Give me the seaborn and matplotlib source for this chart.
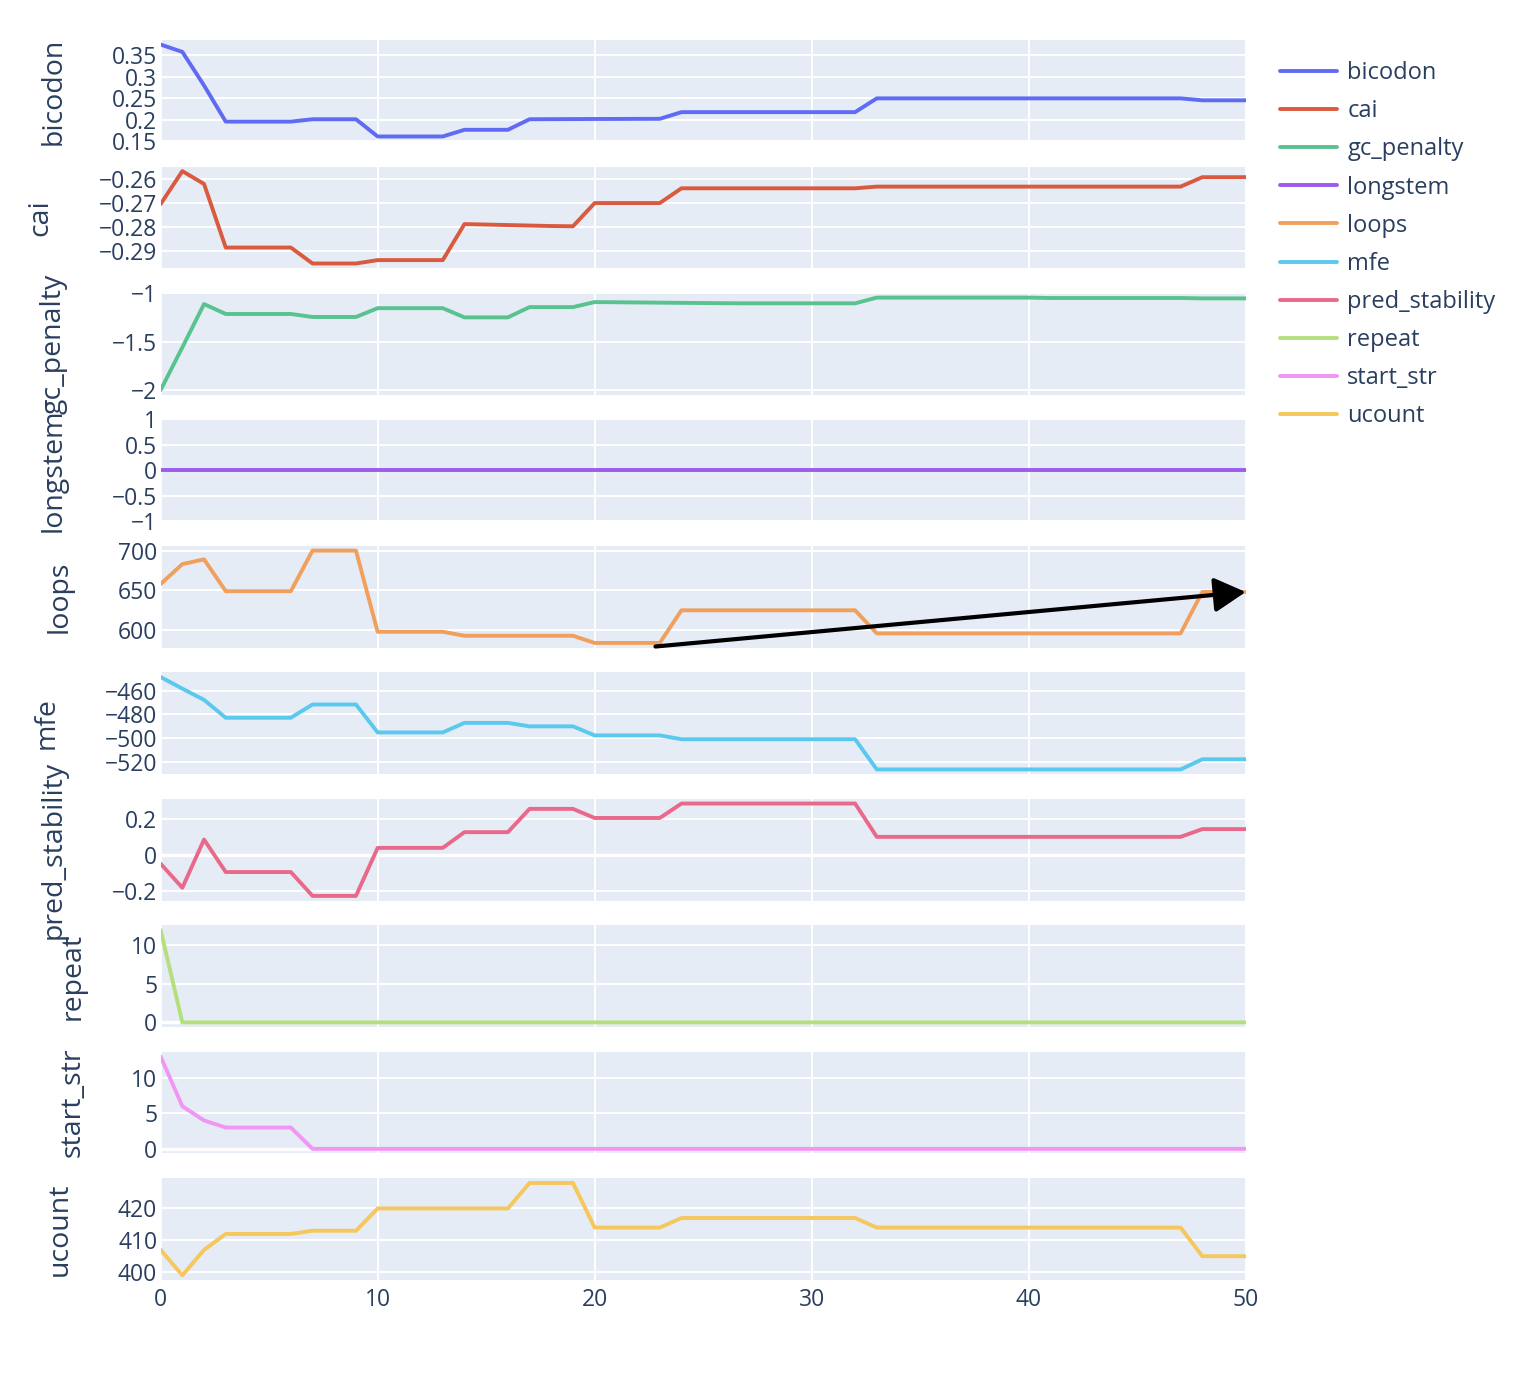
import numpy as np
import pandas as pd
import matplotlib
matplotlib.use('Agg')
import matplotlib.pyplot as plt
from matplotlib.ticker import MultipleLocator, FuncFormatter
import seaborn as sns

# values, one per step (0..50)
steps = list(range(51))

bicodon = ([0.375, 0.358, 0.28, 0.196, 0.196, 0.196, 0.196, 0.2015, 0.2015, 0.2015,
            0.1615, 0.1615, 0.1615, 0.1615, 0.177, 0.177, 0.177, 0.2015, 0.2017, 0.2019,
            0.2021, 0.2022, 0.2024, 0.2025]
           + [0.218] * 9 + [0.250] * 15 + [0.2455] * 3)
cai = ([-0.2704, -0.2568, -0.2621, -0.2884, -0.2884, -0.2884, -0.2884, -0.295, -0.295, -0.295,
        -0.2936, -0.2936, -0.2936, -0.2936, -0.2787, -0.2789, -0.2791, -0.2793, -0.2795, -0.2796,
        -0.27, -0.27, -0.27, -0.27]
       + [-0.2639] * 9 + [-0.2632] * 15 + [-0.2593] * 3)
gc_penalty = ([-2.0, -1.56, -1.113, -1.215, -1.215, -1.215, -1.215, -1.246, -1.246, -1.246,
               -1.155, -1.155, -1.155, -1.155, -1.25, -1.25, -1.25, -1.144, -1.144, -1.144,
               -1.092, -1.094, -1.096, -1.098, -1.100, -1.102, -1.104, -1.105, -1.105, -1.105,
               -1.105, -1.105, -1.105]
              + [-1.046] * 8 + [-1.050] * 7 + [-1.054] * 3)
longstem = [0] * 51
loops = ([658, 683, 689, 649, 649, 649, 649, 700, 700, 700, 598, 598, 598, 598]
         + [593] * 6 + [584] * 4 + [625] * 9 + [596] * 15 + [648] * 3)
mfe = ([-448.7, -458.4, -467.8] + [-482.8] * 4 + [-471.7] * 3 + [-495.1] * 4 + [-487.1] * 3
       + [-490.0] * 3 + [-497.6] * 4 + [-500.8] * 9 + [-526.1] * 15 + [-517.6] * 3)
pred_stability = ([-0.047, -0.180, 0.087] + [-0.093] * 4 + [-0.225] * 3 + [0.041] * 4
                  + [0.128] * 3 + [0.257] * 3 + [0.2065] * 4 + [0.2865] * 9 + [0.102] * 15
                  + [0.145] * 3)
repeat = [12] + [0] * 50
start_str = [13, 6, 4, 3, 3, 3, 3] + [0] * 44
ucount = ([407, 399, 407, 412, 412, 412, 412, 413, 413, 413] + [420] * 7 + [428] * 3
          + [414] * 4 + [417] * 9 + [414] * 15 + [405] * 3)

names = ['bicodon', 'cai', 'gc_penalty', 'longstem', 'loops', 'mfe',
         'pred_stability', 'repeat', 'start_str', 'ucount']
series = [bicodon, cai, gc_penalty, longstem, loops, mfe,
          pred_stability, repeat, start_str, ucount]
colors = ['#5F6AF5', '#DA5A3F', '#59C28F', '#9B5BEF', '#F0A05C',
          '#5BC8EE', '#E9698A', '#B5DF7D', '#F096F5', '#F5C75C']
tick_steps = [0.05, 0.01, 0.5, 0.5, 50, 20, 0.2, 5, 5, 10]
# fixed y ranges where the autorange of the original differs
fixed_ylim = {'bicodon': (0.1495, 0.3855), 'longstem': (-1, 1)}

# arrow annotation on the loops panel
arrow_start = (22.8, 579.5)
arrow_end = (50, 648)

df = pd.DataFrame({'step': steps})
for n, s in zip(names, series):
    df[n] = s

sns.set_theme(style='darkgrid', rc={
    'axes.facecolor': '#E5ECF6',
    'grid.color': 'white',
    'grid.linewidth': 1.4,
    'text.color': '#2a3f5f',
    'axes.labelcolor': '#2a3f5f',
    'xtick.color': '#2a3f5f',
    'ytick.color': '#2a3f5f',
})
plt.rcParams['font.family'] = ['Open Sans', 'DejaVu Sans']

fig, axes = plt.subplots(10, 1, sharex=True, figsize=(15.14, 13.76), dpi=100)
fig.subplots_adjust(left=0.1061, right=0.8228, top=0.9709, bottom=0.0698, hspace=0.245)

fmt = FuncFormatter(lambda v, p: ('%g' % (round(v, 6) + 0.0)).replace('-', '\u2212'))

handles = []
for ax, n, c, st in zip(axes, names, colors, tick_steps):
    sns.lineplot(data=df, x='step', y=n, ax=ax, color=c, linewidth=2.8)
    handles.append(ax.lines[0])
    ax.set_xlim(0, 50)
    if n in fixed_ylim:
        ax.set_ylim(*fixed_ylim[n])
    ax.yaxis.set_major_locator(MultipleLocator(st))
    ax.yaxis.set_major_formatter(fmt)
    ax.xaxis.set_major_locator(MultipleLocator(10))
    lo, hi = ax.get_ylim()
    if lo < 0 < hi:
        ax.axhline(0, color='white', linewidth=2.4, zorder=1)
    ax.tick_params(axis='y', length=0, pad=2.5, labelsize=16.5)
    ax.tick_params(axis='x', length=0, pad=6, labelsize=16.5)
    ax.set_ylabel(n, fontsize=20.5, labelpad=32)
    ax.set_xlabel('')
    for sp in ax.spines.values():
        sp.set_visible(False)

axes[4].annotate('', xy=arrow_end, xytext=arrow_start,
                 arrowprops=dict(arrowstyle='-|>,head_length=0.4,head_width=0.22',
                                 color='black', lw=3, mutation_scale=48,
                                 shrinkA=0, shrinkB=0))

fig.legend(handles, names, loc='upper left', bbox_to_anchor=(1280 / 1514, 1 - 61 / 1376),
           frameon=False, fontsize=17, handlelength=2.4, handletextpad=0.45,
           labelspacing=0.6, borderpad=0, borderaxespad=0)

fig.savefig('out.png', dpi=100, facecolor='white')
